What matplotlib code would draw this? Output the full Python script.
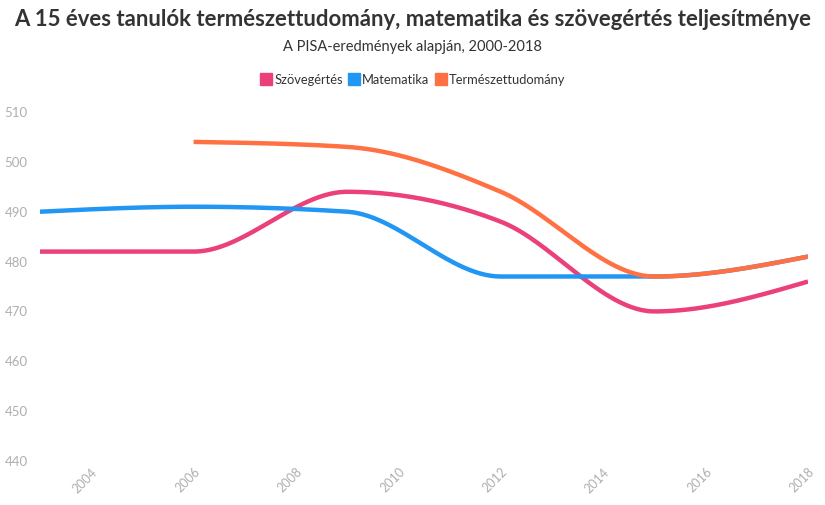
import numpy as np
import matplotlib
matplotlib.use("Agg")
from matplotlib import pyplot as plt
from matplotlib.lines import Line2D

plt.rcParams['font.family'] = ['Lato', 'DejaVu Sans']

years_read = [2003, 2006, 2009, 2012, 2015, 2018]
reading = [482, 482, 494, 488, 470, 476]
years_math = [2003, 2006, 2009, 2012, 2015, 2018]
math = [490, 491, 490, 477, 477, 481]
years_sci = [2006, 2009, 2012, 2015, 2018]
science = [504, 503, 494, 477, 481]

names = ["Szövegértés", "Matematika", "Természettudomány"]
colors = ['#EC407A', '#2196F3', '#FF7043']


# monotone cubic interpolation (like d3 curveMonotoneX), only for drawing
def monotone(x, y, n=60):
    x = np.asarray(x, float)
    y = np.asarray(y, float)
    h = np.diff(x)
    s = np.diff(y) / h
    m = np.zeros_like(y)
    for i in range(1, len(y) - 1):
        p = (s[i - 1] * h[i] + s[i] * h[i - 1]) / (h[i - 1] + h[i])
        m[i] = (np.sign(s[i - 1]) + np.sign(s[i])) * min(abs(s[i - 1]), abs(s[i]), 0.5 * abs(p))
    m[0] = (3 * s[0] - m[1]) / 2
    m[-1] = (3 * s[-1] - m[-2]) / 2
    xs, ys = [], []
    for i in range(len(h)):
        t = np.linspace(0, 1, n)
        h00 = 2 * t**3 - 3 * t**2 + 1
        h10 = t**3 - 2 * t**2 + t
        h01 = -2 * t**3 + 3 * t**2
        h11 = t**3 - t**2
        xs.append(x[i] + t * h[i])
        ys.append(h00 * y[i] + h10 * h[i] * m[i] + h01 * y[i + 1] + h11 * h[i] * m[i + 1])
    return np.concatenate(xs), np.concatenate(ys)


fig = plt.figure(figsize=(8.25, 5.05), dpi=100)
ax = fig.add_axes([40 / 825, 1 - 461 / 505, 768 / 825, 349 / 505])

for xs, ys, c in zip([years_read, years_math, years_sci], [reading, math, science], colors):
    px, py = monotone(xs, ys)
    ax.plot(px, py, color=c, lw=3.2, solid_capstyle='butt')

ax.set_xlim(2003, 2018)
ax.set_ylim(440, 510)
ax.set_yticks(range(440, 511, 10))
ax.set_xticks(range(2004, 2019, 2))
for s in ax.spines.values():
    s.set_visible(False)
ax.tick_params(length=0, colors='#aeaeb4', labelsize=9)
ax.tick_params(axis='y', pad=9, labelsize=9.5)
for lbl in ax.get_xticklabels():
    lbl.set_rotation(45)
    lbl.set_ha('right')
    lbl.set_va('top')
    lbl.set_rotation_mode('anchor')

fig.text(0.5, 1 - 20 / 505, "A 15 éves tanulók természettudomány, matematika és szövegértés teljesítménye",
         ha='center', va='center', fontsize=15.9, fontweight='bold', color='#333333')
fig.text(0.5, 1 - 47 / 505, "A PISA-eredmények alapján, 2000-2018",
         ha='center', va='center', fontsize=10.5, color='#333333')

handles = [Line2D([0], [0], marker='s', color='none', markerfacecolor=c, markeredgecolor=c,
                  markersize=9) for c in colors]
fig.legend(handles, names, loc='center', bbox_to_anchor=(0.5, 1 - 80 / 505), ncol=3,
           frameon=False, fontsize=9.3, handletextpad=0.1, columnspacing=0.4,
           handlelength=1.0, labelcolor='#333333')

fig.savefig("out.png", dpi=100)
